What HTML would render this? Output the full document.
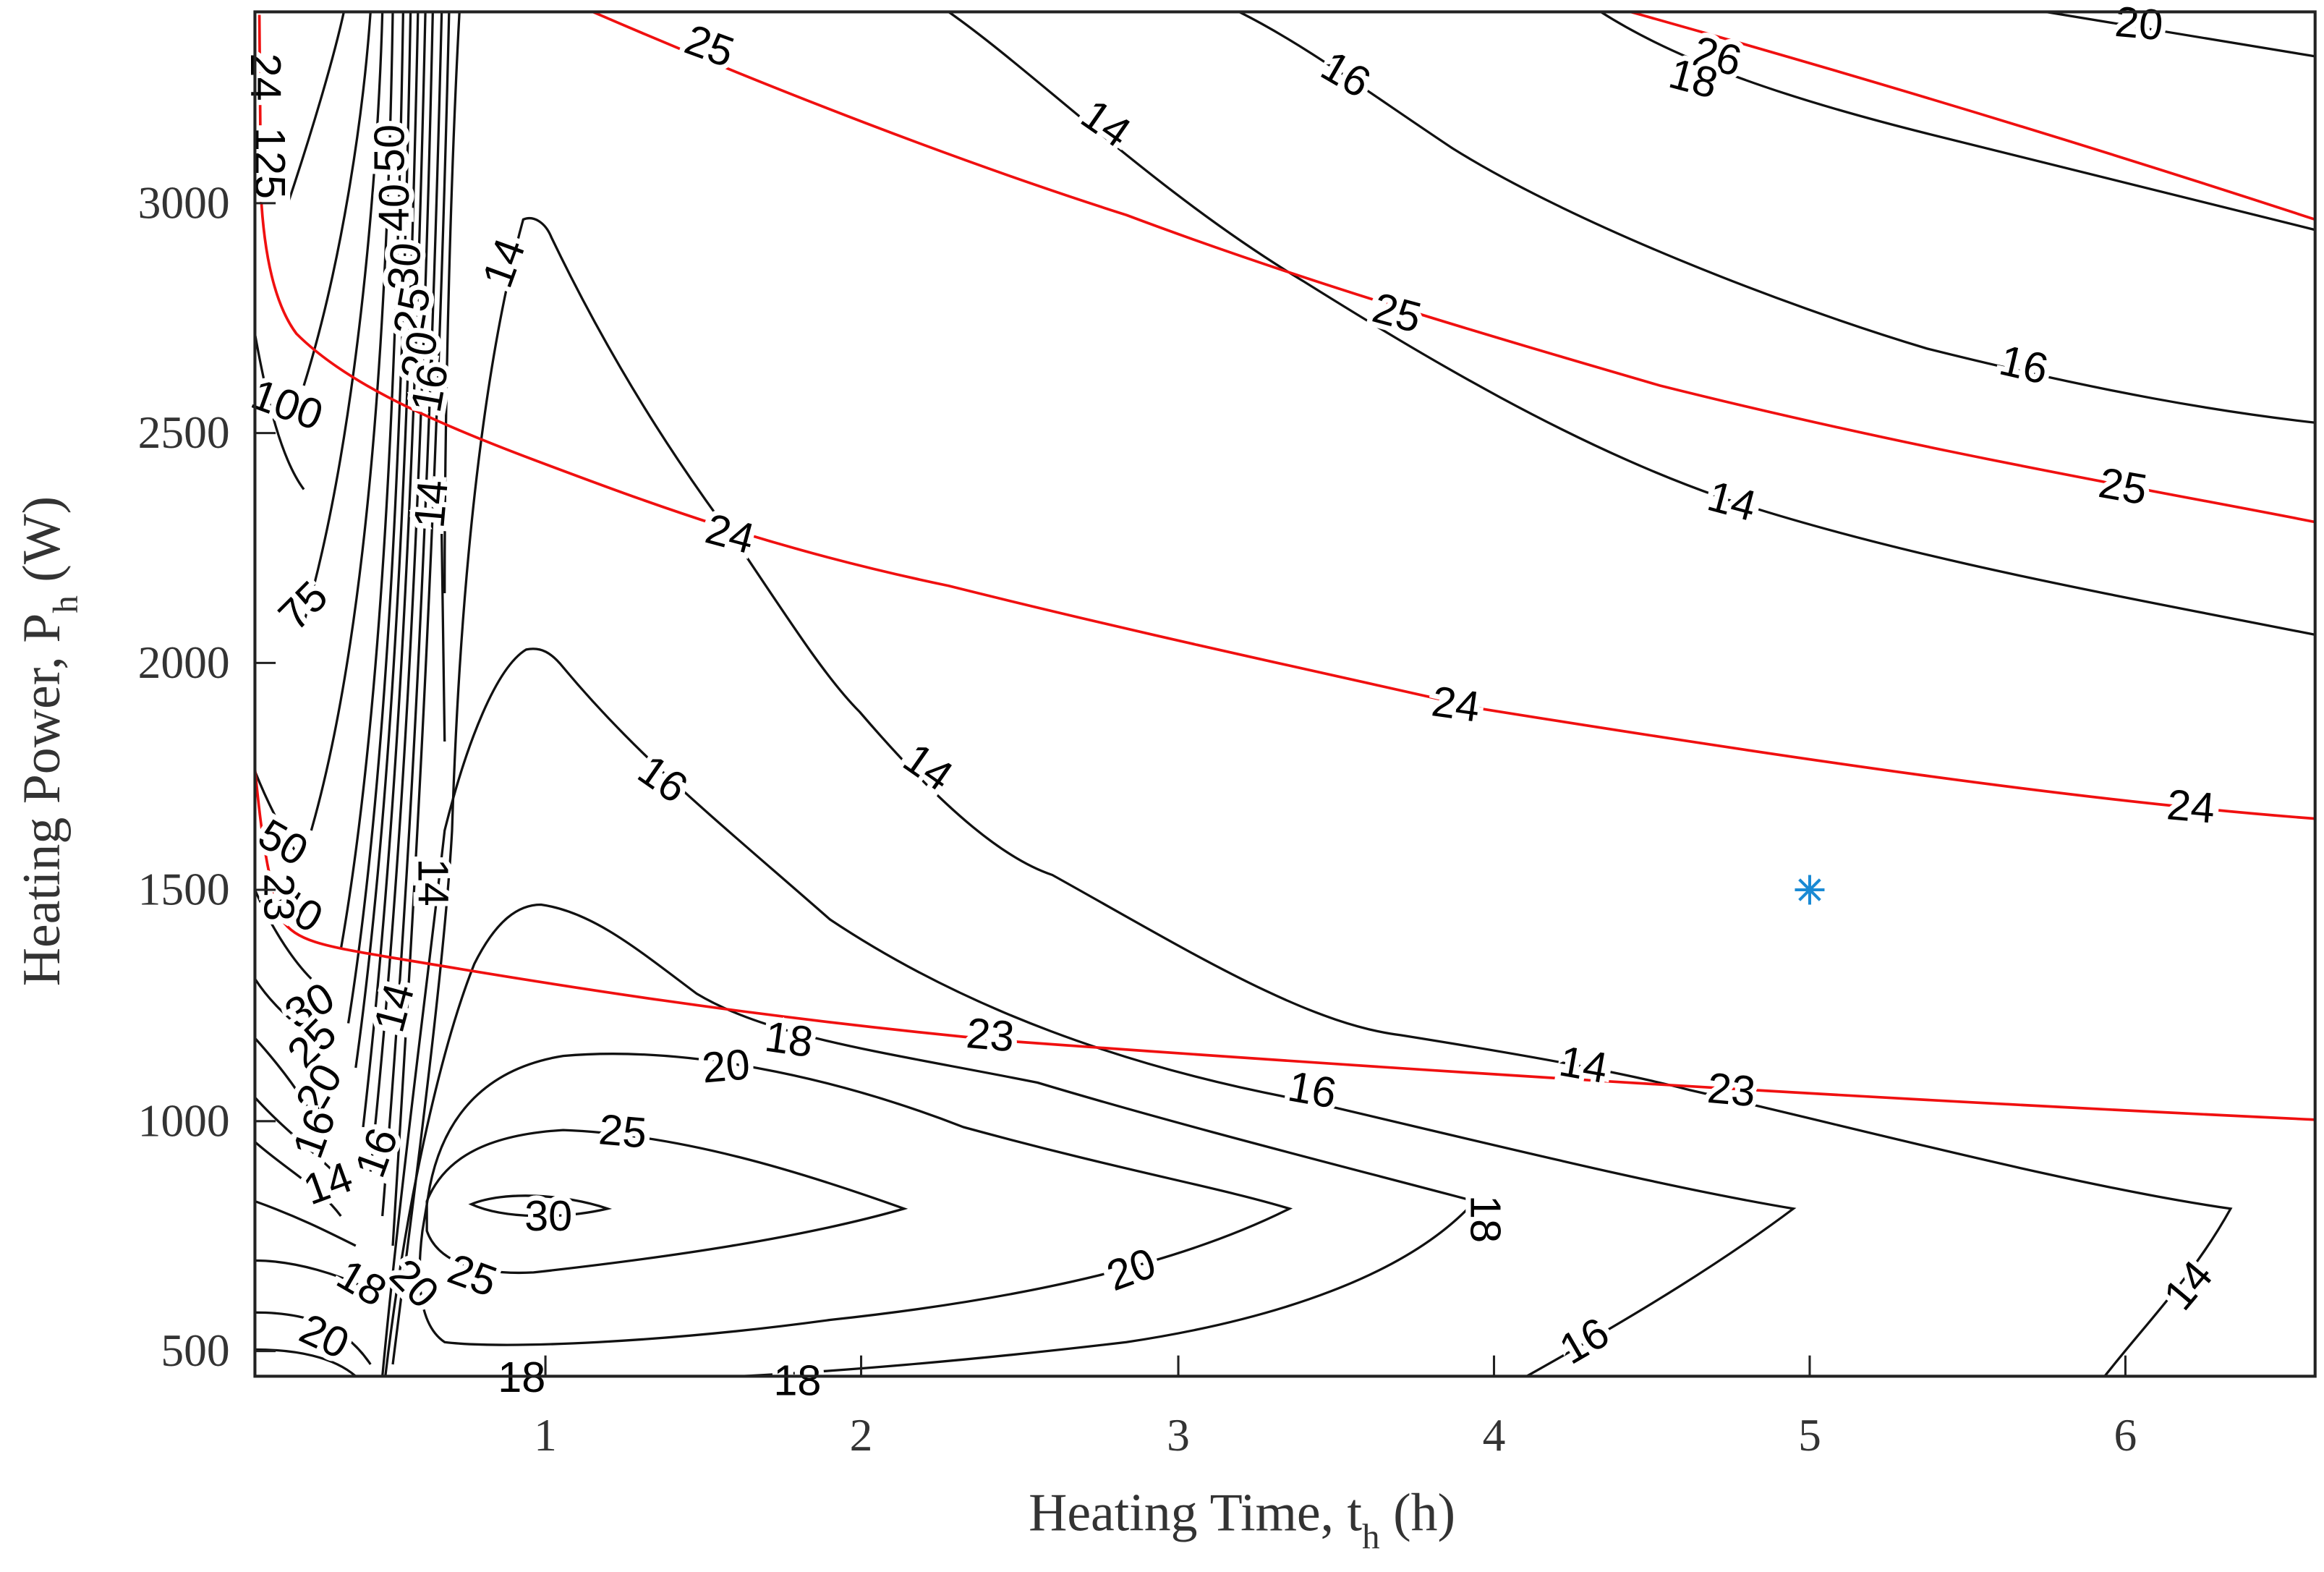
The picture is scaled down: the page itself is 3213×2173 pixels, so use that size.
<!DOCTYPE html>
<html><head><meta charset="utf-8"><style>
html,body{margin:0;padding:0;background:#fff;}
svg{display:block;}
.k{fill:none;stroke:#111;stroke-width:1.6;}
.r{fill:none;stroke:#f01010;stroke-width:1.8;}
.l{font-family:"Liberation Sans",sans-serif;font-size:29px;fill:#000;stroke:#fff;stroke-width:7px;paint-order:stroke;text-anchor:middle;dominant-baseline:middle;}
.t{font-family:"Liberation Serif",serif;font-size:31px;fill:#333;}
.a{font-family:"Liberation Serif",serif;font-size:36px;fill:#333;}
</style></head><body>
<svg width="3213" height="2173" viewBox="0 0 1568 1060" preserveAspectRatio="none" xmlns="http://www.w3.org/2000/svg">
<rect width="1568" height="1060" fill="#fff"/>
<g class="k">
<path d="M195,135 C210,90 225,40 232,8"/>
<path d="M205,260 C230,180 245,80 250,8"/>
<path d="M205,420 C240,300 255,120 258,8"/>
<path d="M210,560 C250,420 262,200 265,8"/>
<path d="M230,640 C258,480 268,250 272,8"/>
<path d="M235,690 C262,520 272,280 277,8"/>
<path d="M240,720 C265,540 276,300 282,8"/>
<path d="M245,760 C268,560 280,320 287,8"/>
<path d="M250,790 C272,580 285,330 292,8"/>
<path d="M258,820 C276,600 290,340 298,8"/>
<path d="M265,840 C280,600 295,350 303,8"/>
<path d="M300,500 L298,360 M300,400 C300,250 305,100 310,8"/>
<path d="M172,225 C180,270 190,310 205,330"/>
<path d="M172,520 C180,540 190,560 200,575"/>
<path d="M172,600 C185,630 200,650 210,660"/>
<path d="M172,660 C185,680 200,690 210,700"/>
<path d="M172,700 C190,720 205,740 215,760"/>
<path d="M172,740 C190,760 210,775 225,790"/>
<path d="M172,770 C195,790 215,800 230,820"/>
<path d="M172,810 C200,820 220,830 240,840"/>
<path d="M172,850 C200,850 230,860 250,870"/>
<path d="M172,885 C200,885 230,890 250,920"/>
<path d="M172,910 C200,910 225,915 240,928"/>
<path d="M265,920 C280,800 300,650 305,560 C310,400 325,250 353,148 C360,145 368,150 372,160 C420,260 470,330 500,370 C540,430 560,460 580,480 C640,550 680,580 710,590 C800,640 880,690 945,698 C1020,710 1090,722 1140,735 C1250,760 1400,800 1505,815 C1480,860 1450,890 1420,928"/>
<path d="M258,928 C270,800 290,650 300,560 C315,500 335,450 355,438 C365,436 372,440 380,450 C430,510 480,550 560,620 C650,680 760,720 880,742 C1000,770 1120,800 1210,815 C1150,860 1080,900 1030,928"/>
<path d="M260,928 C275,800 300,700 320,650 C335,620 350,610 365,610 C400,615 430,640 470,670 C520,700 600,710 700,730 C800,760 920,790 995,810 C950,860 860,890 760,905 C650,918 560,925 500,928"/>
<path d="M290,800 C300,750 330,720 380,712 C460,705 560,725 650,760 C760,790 820,800 870,815 C800,850 700,875 560,890 C450,905 340,910 300,905 C285,895 280,870 285,830 Z"/>
<path d="M288,810 C300,780 330,765 380,762 C460,765 540,790 610,815 C540,835 450,848 360,858 C320,860 295,850 288,830 Z"/>
<path d="M318,812 C340,803 380,805 410,815 C380,822 340,822 318,812 Z"/>
<path d="M836,8 C880,30 920,60 980,100 C1060,150 1200,205 1300,235 C1420,265 1500,278 1562,285"/>
<path d="M640,8 C700,50 780,130 880,190 C960,240 1060,300 1160,335 C1280,375 1420,400 1562,428"/>
<path d="M1080,8 C1130,40 1200,65 1300,90 C1420,120 1500,140 1562,155"/>
<path d="M1380,8 C1420,15 1480,25 1562,38"/>
</g>
<g class="r">
<path d="M1100,8 C1250,50 1400,95 1562,148"/>
<path d="M400,8 C520,60 650,110 760,145 C880,190 1000,225 1120,260 C1300,305 1450,330 1562,352"/>
<path d="M175,10 L176,130 C178,170 185,205 200,225 C230,255 280,280 360,310 C440,340 520,370 640,395 C780,430 900,455 1000,478 C1200,510 1400,540 1562,552"/>
<path d="M172,518 C176,560 180,590 190,620 C200,635 220,638 260,645 C380,665 500,685 680,702 C900,718 1200,738 1562,755"/>
</g>
<g class="l">
<text x="478" y="33" transform="rotate(20 478 33)">25</text>
<text x="1158" y="40" transform="rotate(15 1158 40)">26</text>
<text x="1142" y="55" transform="rotate(15 1142 55)">18</text>
<text x="1443" y="18" transform="rotate(5 1443 18)">20</text>
<text x="907" y="52" transform="rotate(30 907 52)">16</text>
<text x="745" y="85" transform="rotate(35 745 85)">14</text>
<text x="942" y="213" transform="rotate(15 942 213)">25</text>
<text x="1365" y="248" transform="rotate(13 1365 248)">16</text>
<text x="1432" y="330" transform="rotate(10 1432 330)">25</text>
<text x="1168" y="340" transform="rotate(15 1168 340)">14</text>
<text x="492" y="362" transform="rotate(15 492 362)">24</text>
<text x="982" y="477" transform="rotate(8 982 477)">24</text>
<text x="1478" y="546" transform="rotate(5 1478 546)">24</text>
<text x="342" y="178" transform="rotate(-70 342 178)">14</text>
<text x="446" y="527" transform="rotate(35 446 527)">16</text>
<text x="625" y="519" transform="rotate(35 625 519)">14</text>
<text x="668" y="700" transform="rotate(5 668 700)">23</text>
<text x="1068" y="720" transform="rotate(10 1068 720)">14</text>
<text x="1168" y="737" transform="rotate(5 1168 737)">23</text>
<text x="885" y="737" transform="rotate(10 885 737)">16</text>
<text x="532" y="703" transform="rotate(8 532 703)">18</text>
<text x="490" y="721" transform="rotate(-5 490 721)">20</text>
<text x="420" y="765" transform="rotate(5 420 765)">25</text>
<text x="370" y="822">30</text>
<text x="1000" y="822" transform="rotate(90 1000 822)">18</text>
<text x="764" y="858" transform="rotate(-20 764 858)">20</text>
<text x="318" y="862" transform="rotate(20 318 862)">25</text>
<text x="1070" y="906" transform="rotate(-30 1070 906)">16</text>
<text x="1478" y="868" transform="rotate(-50 1478 868)">14</text>
<text x="352" y="931">18</text>
<text x="538" y="933">18</text>
<text x="218" y="903" transform="rotate(25 218 903)">20</text>
<text x="278" y="867" transform="rotate(45 278 867)">20</text>
<text x="243" y="867" transform="rotate(30 243 867)">18</text>
<text x="222" y="800" transform="rotate(-20 222 800)">14</text>
<text x="256" y="778" transform="rotate(-70 256 778)">16</text>
<text x="268" y="680" transform="rotate(-75 268 680)">14</text>
<text x="290" y="595" transform="rotate(90 290 595)">14</text>
<text x="293" y="340" transform="rotate(-85 293 340)">14</text>
<text x="206" y="410" transform="rotate(-45 206 410)">75</text>
<text x="193" y="275" transform="rotate(20 193 275)">100</text>
<text x="190" y="570" transform="rotate(30 190 570)">50</text>
<text x="200" y="615" transform="rotate(30 200 615)">40</text>
<text x="210" y="680" transform="rotate(-30 210 680)">30</text>
<text x="212" y="705" transform="rotate(-45 212 705)">25</text>
<text x="217" y="735" transform="rotate(-60 217 735)">20</text>
<text x="214" y="765" transform="rotate(-70 214 765)">16</text>
<text x="186" y="605" transform="rotate(90 186 605)">23</text>
<text x="177" y="52" transform="rotate(90 177 52)">24</text>
<text x="180" y="110" transform="rotate(90 180 110)">125</text>
<text x="265" y="100" transform="rotate(-90 265 100)">50</text>
<text x="268" y="140" transform="rotate(-90 268 140)">40</text>
<text x="275" y="180" transform="rotate(-85 275 180)">30</text>
<text x="280" y="210" transform="rotate(-80 280 210)">25</text>
<text x="285" y="240" transform="rotate(-80 285 240)">20</text>
<text x="292" y="262" transform="rotate(-80 292 262)">16</text>
</g>
<g stroke="#1a8ad4" stroke-width="2">
<line x1="1221" y1="590" x2="1221" y2="610"/><line x1="1211" y1="600" x2="1231" y2="600"/>
<line x1="1214" y1="593" x2="1228" y2="607"/><line x1="1228" y1="593" x2="1214" y2="607"/>
</g>
<rect x="172" y="8" width="1390" height="920" fill="none" stroke="#222" stroke-width="2"/>
<g stroke="#222" stroke-width="1.5">
<line x1="368" y1="928" x2="368" y2="914"/><line x1="581" y1="928" x2="581" y2="914"/><line x1="795" y1="928" x2="795" y2="914"/>
<line x1="1008" y1="928" x2="1008" y2="914"/><line x1="1221" y1="928" x2="1221" y2="914"/><line x1="1434" y1="928" x2="1434" y2="914"/>
<line x1="172" y1="137" x2="186" y2="137"/><line x1="172" y1="292" x2="186" y2="292"/><line x1="172" y1="447" x2="186" y2="447"/>
<line x1="172" y1="600" x2="186" y2="600"/><line x1="172" y1="756" x2="186" y2="756"/><line x1="172" y1="911" x2="186" y2="911"/>
</g>
<g class="t" text-anchor="middle">
<text x="368" y="978">1</text><text x="581" y="978">2</text><text x="795" y="978">3</text>
<text x="1008" y="978">4</text><text x="1221" y="978">5</text><text x="1434" y="978">6</text>
</g>
<g class="t" text-anchor="end">
<text x="155" y="147">3000</text><text x="155" y="302">2500</text><text x="155" y="457">2000</text>
<text x="155" y="610">1500</text><text x="155" y="766">1000</text><text x="155" y="921">500</text>
</g>
<text class="a" x="694" y="1032">Heating Time, t<tspan font-size="24" dy="12">h</tspan><tspan dy="-12"> (h)</tspan></text>
<text class="a" transform="translate(40 665) rotate(-90)">Heating Power, P<tspan font-size="24" dy="12">h</tspan><tspan dy="-12"> (W)</tspan></text>
</svg>
</body></html>
